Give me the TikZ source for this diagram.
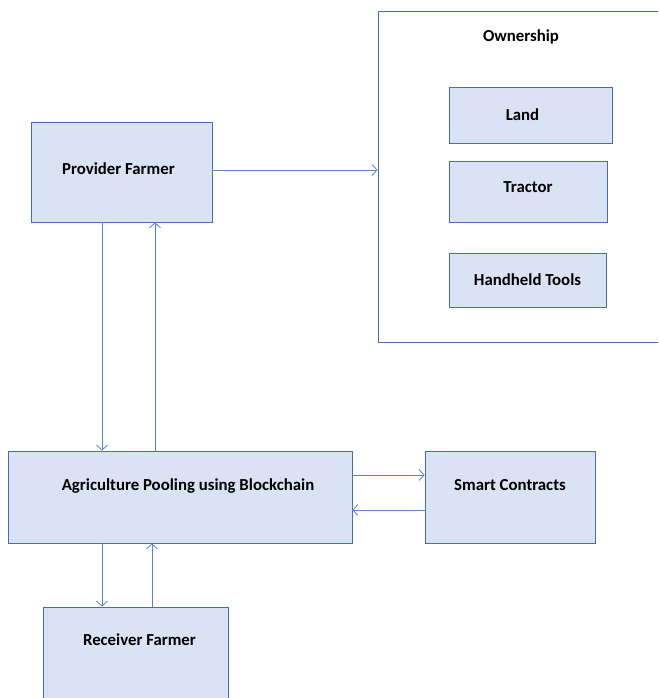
\documentclass[tikz,border=0pt]{standalone}
\usepackage{fontspec}
\setmainfont{Carlito}
\usetikzlibrary{arrows.meta}
\usetikzlibrary{positioning}
\definecolor{boxfill}{HTML}{DAE3F3}
\definecolor{boxline}{HTML}{4A6CB0}
\definecolor{flowline}{HTML}{5B82CC}
\tikzset{
  box/.style={draw=boxline, fill=boxfill, line width=0.8pt, font=\bfseries\fontsize{16.8}{18}\selectfont, inner sep=0pt},
  frame/.style={draw=boxline, line width=0.8pt, inner sep=0pt},
  title/.style={font=\bfseries\fontsize{16.8}{18}\selectfont, inner sep=0pt},
  flow/.style={draw=flowline, line width=0.8pt, -{Straight Barb[length=5pt,width=11pt]}},
}

\begin{document}
\begin{tikzpicture}[x=1pt, y=-1pt]
  \useasboundingbox (0, 0) rectangle (658, 698);
  \clip (0, 0) rectangle (658, 698);

  % ownership group
  \node[frame, minimum width=300, minimum height=331] (own) at (528, 176.5) {};
  \node[title, below=19pt of own.north, xshift=-7pt] (owntitle) {Ownership};
  \node[box, minimum width=163, minimum height=56] (land) at (530.5, 115) {Land\hspace*{16pt}};
  \node[box, minimum width=158, minimum height=61, text height=10pt, text depth=9pt] (tractor) at (528, 191.5) {Tractor};
  \node[box, minimum width=157, minimum height=54] (tools) at (527.5, 280) {Handheld Tools};

  % farmers and platform
  \node[box, minimum width=181, minimum height=100, text height=10pt, text depth=6pt] (prov) at (121.5, 172) {Provider Farmer\hspace*{6pt}};
  \node[box, minimum width=344, minimum height=92, text height=10pt, text depth=24pt] (agri) at (180, 497) {\hspace*{16pt}Agriculture Pooling using Blockchain};
  \node[box, minimum width=170, minimum height=92, text height=10pt, text depth=24pt] (smart) at (510, 497) {Smart Contracts};
  \node[box, minimum width=185, minimum height=130, text height=10pt, text depth=64pt] (recv) at (135.5, 672) {\hspace*{8pt}Receiver Farmer};

  % connectors
  \draw[flow] ([yshift=2pt]prov.east) -- ([yshift=2pt]prov.east -| own.west);
  \draw[flow] ([xshift=-19.5pt]prov.south) -- ([xshift=-19.5pt]prov.south |- agri.north);
  \draw[flow] ([xshift=33.5pt]prov.south |- agri.north) -- ([xshift=33.5pt]prov.south);
  \draw[flow] ([yshift=22pt]agri.east) -- ([yshift=22pt]agri.east -| smart.west);
  \draw[flow] ([yshift=-13pt]agri.east -| smart.west) -- ([yshift=-13pt]agri.east);
  \draw[flow] ([xshift=-33.5pt]recv.north |- agri.south) -- ([xshift=-33.5pt]recv.north);
  \draw[flow] ([xshift=16.5pt]recv.north) -- ([xshift=16.5pt]recv.north |- agri.south);
\end{tikzpicture}
\end{document}
